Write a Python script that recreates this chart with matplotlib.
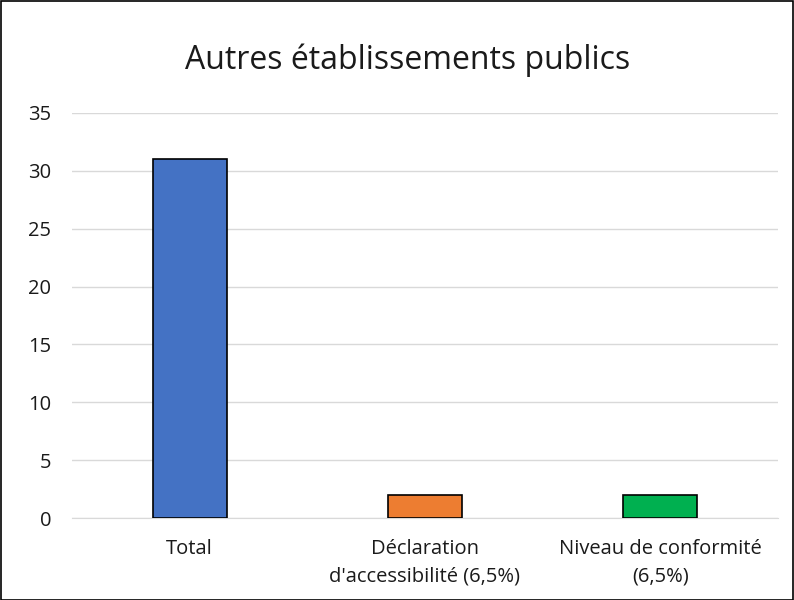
import matplotlib
matplotlib.use("Agg")
import matplotlib.pyplot as plt
from matplotlib.patches import Rectangle

plt.rcParams['font.family'] = ['Open Sans', 'DejaVu Sans']

categories = ["Total", "Déclaration\nd'accessibilité (6,5%)", "Niveau de conformité\n(6,5%)"]
values = [31, 2, 2]
colors = ["#4472C4", "#ED7D31", "#00B050"]
yticks = [0, 5, 10, 15, 20, 25, 30, 35]

fig = plt.figure(figsize=(7.94, 6.00), dpi=100)
ax = fig.add_axes([72 / 794, 82 / 600, 706 / 794, 405 / 600])

x = list(range(len(categories)))
ax.bar(x, values, width=0.315, color=colors, edgecolor="black", linewidth=1.2, zorder=3)

ax.set_xlim(-0.5, len(categories) - 0.5)
ax.set_ylim(0, 35)
ax.set_yticks(yticks)
ax.set_xticks(x)
ax.set_xticklabels(categories, fontsize=14.5, linespacing=1.5, color="#1a1a1a")
ax.tick_params(axis="y", labelsize=14.5, length=0, pad=15, labelcolor="#1a1a1a")
ax.tick_params(axis="x", length=0, pad=15)
ax.grid(axis="y", color="#D9D9D9", linewidth=1, zorder=0)
for s in ["top", "right", "left"]:
    ax.spines[s].set_visible(False)
ax.spines["bottom"].set_color("#D9D9D9")

fig.text(0.514, 0.9, "Autres établissements publics", ha="center", va="center",
         fontsize=23, color="#1a1a1a")

fig.patches.append(Rectangle((0.001, 0.0), 0.998, 0.998, transform=fig.transFigure,
                             fill=False, edgecolor="black", linewidth=1.2))

fig.savefig("out.png", dpi=100)
